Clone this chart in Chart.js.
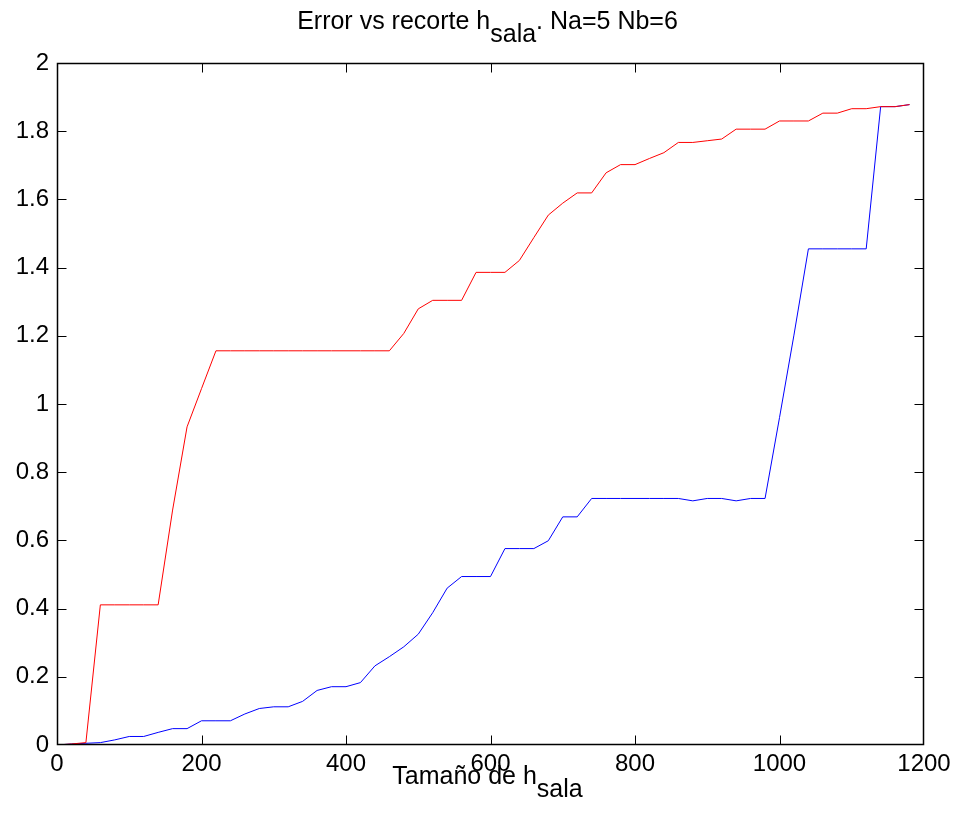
<!DOCTYPE html>
<html>
<head>
<meta charset="utf-8">
<script src="https://cdn.jsdelivr.net/npm/chart.js@4/dist/chart.umd.min.js"></script>
<style>
  html, body { margin:0; padding:0; background:#fff; }
  #wrap { position:relative; width:957px; height:827px; }
  canvas { position:absolute; left:0; top:0; }
  .lbl { position:absolute; left:0; width:957px; text-align:center; font-family:"Liberation Sans", Arial, sans-serif; color:#000; white-space:nowrap; line-height:1; }
  .lbl .sub { position:relative; top:0.5em; }
</style>
</head>
<body>
<div id="wrap">
  <canvas id="c" width="957" height="827"></canvas>
  <div class="lbl" id="title" style="top:8px; left:9px; font-size:25px;">Error vs recorte h<span class="sub">sala</span>. Na=5 Nb=6</div>
  <div class="lbl" id="xlabel" style="top:763px; left:9px; font-size:25px;">Tamaño de h<span class="sub">sala</span></div>
</div>
<script>
// ---- data ----
const hSala = [0,20,40,60,80,100,120,140,160,180,200,220,240,260,280,300,320,340,360,380,
  400,420,440,460,480,500,520,540,560,580,600,620,640,660,680,700,720,740,760,780,
  800,820,840,860,880,900,920,940,960,980,1000,1020,1040,1060,1080,1100,1120,1140,1160,1180];

const errorRed = [0.000,0.003,0.007,0.411,0.411,0.411,0.411,0.411,0.689,0.933,
  1.045,1.156,1.156,1.156,1.156,1.156,1.156,1.156,1.156,1.156,
  1.156,1.156,1.156,1.156,1.207,1.279,1.304,1.304,1.304,1.386,
  1.386,1.386,1.421,1.488,1.554,1.589,1.619,1.619,1.678,1.702,
  1.702,1.720,1.737,1.767,1.767,1.772,1.777,1.806,1.806,1.806,
  1.830,1.830,1.830,1.853,1.853,1.866,1.866,1.872,1.872,1.878];

const errorBlue = [0.000,0.003,0.005,0.007,0.015,0.025,0.025,0.037,0.048,0.048,
  0.071,0.071,0.071,0.091,0.107,0.112,0.112,0.128,0.160,0.171,
  0.171,0.183,0.232,0.259,0.288,0.325,0.388,0.460,0.494,0.494,
  0.494,0.576,0.576,0.576,0.599,0.669,0.669,0.723,0.723,0.723,
  0.723,0.723,0.723,0.723,0.716,0.723,0.723,0.716,0.723,0.723,
  0.960,1.202,1.455,1.455,1.455,1.455,1.455,1.872,1.872,1.878];

const xTicks = [0,200,400,600,800,1000,1200];
const yTicks = [0,0.2,0.4,0.6,0.8,1,1.2,1.4,1.6,1.8,2];

const toPoints = (xs, ys) => xs.map((x, i) => ({x: x, y: ys[i]}));

// box + inward tick marks, MATLAB style
const boxPlugin = {
  id: 'matlabBox',
  afterDatasetsDraw(chart) {
    const {ctx, chartArea: a, scales} = chart;
    const L = Math.round(a.left) + 0.5, R = Math.round(a.right) - 0.5;
    const T = Math.round(a.top) + 0.5, B = Math.round(a.bottom) - 0.5;
    const len = 9;
    ctx.save();
    ctx.strokeStyle = '#000';
    ctx.lineWidth = 1;
    ctx.beginPath();
    xTicks.forEach(v => {
      const px = Math.round(scales.x.getPixelForValue(v)) + 0.5;
      if (v !== xTicks[0] && v !== xTicks[xTicks.length-1]) {
        ctx.moveTo(px, B); ctx.lineTo(px, B - len);
        ctx.moveTo(px, T); ctx.lineTo(px, T + len);
      }
    });
    yTicks.forEach(v => {
      const py = Math.round(scales.y.getPixelForValue(v)) + 0.5;
      if (v !== yTicks[0] && v !== yTicks[yTicks.length-1]) {
        ctx.moveTo(L, py); ctx.lineTo(L + len, py);
        ctx.moveTo(R, py); ctx.lineTo(R - len, py);
      }
    });
    ctx.stroke();
    ctx.lineWidth = 1.5;
    ctx.strokeRect(L, T, R - L, B - T);
    ctx.restore();
  }
};

const tickFont = {family: '"Liberation Sans", Arial, sans-serif', size: 24};

new Chart(document.getElementById('c'), {
  type: 'line',
  data: {
    datasets: [
      { label: 'rojo', data: toPoints(hSala, errorRed), borderColor: '#ff0000', borderWidth: 1, pointRadius: 0, tension: 0, fill: false },
      { label: 'azul', data: toPoints(hSala, errorBlue), borderColor: '#0000ff', borderWidth: 1, pointRadius: 0, tension: 0, fill: false }
    ]
  },
  options: {
    responsive: false,
    animation: false,
    events: [],
    layout: { padding: { left: 0, top: 63, right: 33, bottom: 0 } },
    plugins: { legend: { display: false }, tooltip: { enabled: false }, title: { display: false } },
    scales: {
      x: {
        type: 'linear', min: 0, max: 1200,
        afterBuildTicks: s => { s.ticks = xTicks.map(v => ({value: v})); },
        afterFit: s => { s.height = 82; },
        grid: { display: false, drawTicks: false },
        border: { display: false },
        ticks: { font: tickFont, color: '#000', padding: 5, maxRotation: 0, autoSkip: false,
                 callback: v => String(v) }
      },
      y: {
        min: 0, max: 2,
        afterBuildTicks: s => { s.ticks = yTicks.map(v => ({value: v})); },
        afterFit: s => { s.width = 57; },
        grid: { display: false, drawTicks: false },
        border: { display: false },
        ticks: { font: tickFont, color: '#000', padding: 8, autoSkip: false,
                 callback: v => String(Math.round(v * 10) / 10) }
      }
    }
  },
  plugins: [boxPlugin]
});
</script>
</body>
</html>
